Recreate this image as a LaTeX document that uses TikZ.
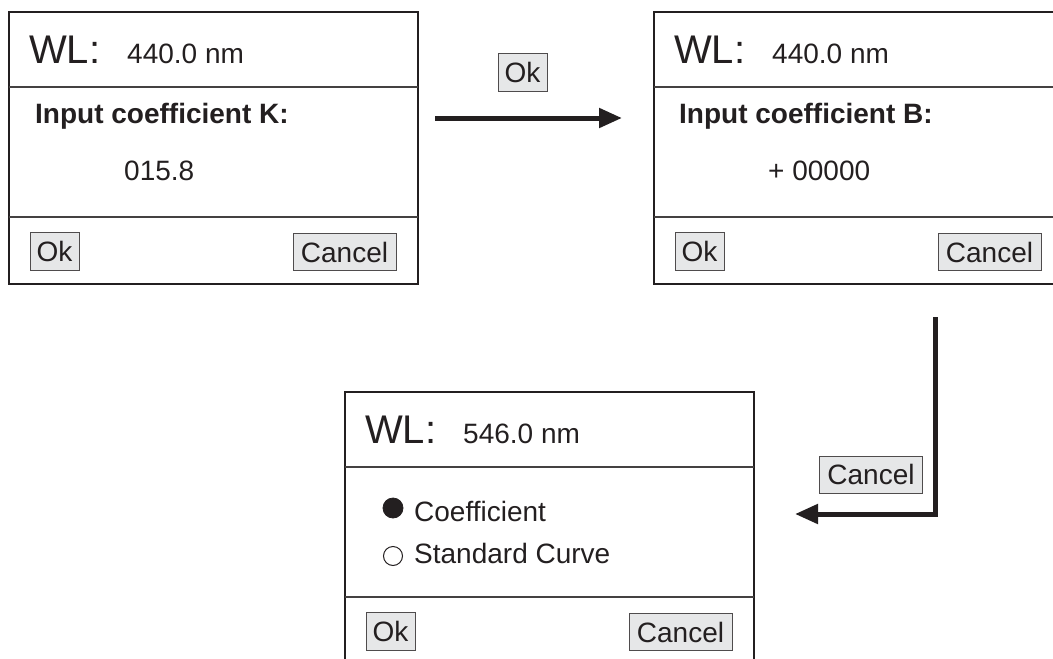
\documentclass[tikz,border=0pt]{standalone}
\usepackage{fontspec}
\setmainfont{Liberation Sans}
\usetikzlibrary{arrows.meta}
\definecolor{ink}{HTML}{231F20}
\definecolor{btnfill}{HTML}{E6E7E8}
\tikzset{
  panel/.style={draw=ink, line width=2pt, outer sep=0pt, inner sep=0pt,
    minimum width=409pt, minimum height=272pt, anchor=north west},
  divider/.style={draw=ink!85, line width=1.2pt},
  txt/.style={inner sep=0pt, anchor=base west, text=ink,
    font=\fontsize{28}{30}\selectfont},
  wl/.style={txt, font=\fontsize{40}{44}\selectfont},
  btn/.style={draw=ink!80, fill=btnfill, line width=0.9pt, inner sep=0pt,
    text=ink, font=\fontsize{28}{30}\selectfont},
  okbtn/.style={btn, minimum width=49pt, minimum height=38pt},
  cancelbtn/.style={btn, minimum width=103pt, minimum height=37pt},
  radio/.style={circle, draw=ink, inner sep=0pt},
  flow/.style={draw=ink, line width=5pt, line join=miter,
    -{Triangle[length=23pt,width=19pt]}}
}
\begin{document}
\begin{tikzpicture}[x=1pt,y=-1pt]
  \clip (0,0) rectangle (1053,659);
  \foreach \x/\y/\n/\wlval in {9/12/k/440.0, 654/12/b/440.0, 345/392/m/546.0} {
    \node[panel] (\n) at (\x,\y) {};
    \draw[divider] (\x,\y+75) -- (\x+409,\y+75);
    \draw[divider] (\x,\y+205) -- (\x+409,\y+205);
    \node[wl] (\n-wl) at (\x+20,\y+51) {WL:};
    \node[txt] (\n-nm) at (\x+118,\y+51) {\wlval\ nm};
    \node[okbtn] (\n-ok) at (\x+45.5,\y+239) {Ok};
    \node[cancelbtn] (\n-cancel) at (\x+335.5,\y+240) {Cancel};
  }
  \node[txt, font=\fontsize{28}{30}\selectfont\bfseries] (k-prompt) at (35,123)
    {Input coefficient K:};
  \node[txt] (k-value) at (124,180) {015.8};
  \node[txt, font=\fontsize{28}{30}\selectfont\bfseries] (b-prompt) at (679,123)
    {Input coefficient B:};
  \node[txt] (b-value) at (768,180) {+ 00000};
  \node[radio, fill=ink, minimum size=20pt, line width=0.8pt] (m-coef) at (393,508) {};
  \node[txt] (m-coeftxt) at (414,521) {Coefficient};
  \node[radio, minimum size=19pt, line width=1pt] (m-curve) at (393,556) {};
  \node[txt] (m-curvetxt) at (414,563) {Standard Curve};
  \coordinate (ok-start) at (435,118);
  \coordinate (ok-end) at (622,118);
  \draw[flow] (ok-start) -- (ok-end);
  \node[okbtn] (ok-label) at (522.5,72.5) {Ok};
  \coordinate (cancel-start) at (935,317);
  \coordinate (cancel-end) at (795,514);
  \draw[flow] (cancel-start) |- (cancel-end);
  \node[cancelbtn] (cancel-label) at (871,474.5) {Cancel};
\end{tikzpicture}
\end{document}
